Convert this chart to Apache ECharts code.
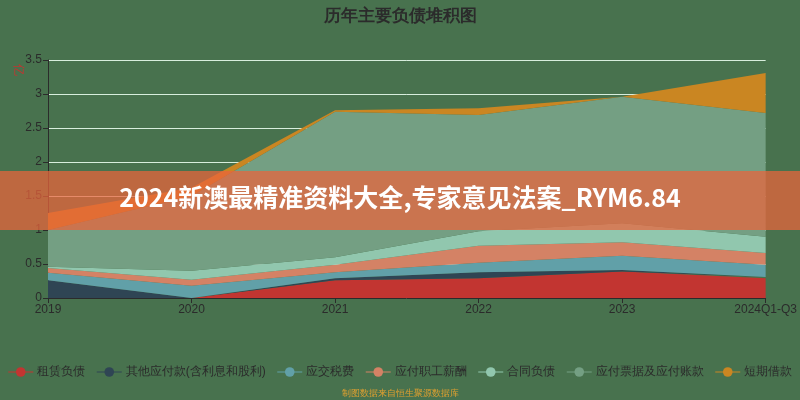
<!DOCTYPE html>
<html>
<head>
<meta charset="utf-8">
<script src="https://cdn.jsdelivr.net/npm/echarts@6/dist/echarts.min.js"></script>
<style>
  html, body { margin: 0; padding: 0; background: #48724e; }
  #chart { width: 800px; height: 400px; }
</style>
</head>
<body>
<div id="chart"></div>
<script>
// 年份
const years = ["2019", "2020", "2021", "2022", "2023", "2024Q1-Q3"];
// 各负债项目（亿）
const leaseLiab = [0, 0, 0.26, 0.29, 0.39, 0.29]; // 租赁负债
const otherPay = [0.26, 0, 0.03, 0.09, 0.02, 0.02]; // 其他应付款(含利息和股利)
const taxPay = [0.11, 0.18, 0.09, 0.14, 0.21, 0.18]; // 应交税费
const staffPay = [0.07, 0.09, 0.11, 0.25, 0.2, 0.17]; // 应付职工薪酬
const contractLiab = [0.02, 0.13, 0.11, 0.21, 0.28, 0.24]; // 合同负债
const notesPay = [0.54, 1.1, 2.14, 1.71, 1.86, 1.82]; // 应付票据及应付账款
const shortLoan = [0.25, 0.12, 0.02, 0.1, 0, 0.59]; // 短期借款
const yTicks = [0, 0.5, 1, 1.5, 2, 2.5, 3, 3.5];

const names = ["租赁负债", "其他应付款(含利息和股利)", "应交税费", "应付职工薪酬", "合同负债", "应付票据及应付账款", "短期借款"];
const colors = ["#c23531", "#2f4554", "#61a0a8", "#d48265", "#91c7ae", "#749f83", "#ca8622"];
const seriesData = [leaseLiab, otherPay, taxPay, staffPay, contractLiab, notesPay, shortLoan];

const chart = echarts.init(document.getElementById("chart"));

chart.setOption({
  backgroundColor: "#48724e",
  color: colors,
  animation: false,
  title: {
    text: "历年主要负债堆积图",
    left: "center",
    top: 3,
    textStyle: { color: "#2b2b2b", fontSize: 17, fontWeight: "bold" },
  },
  legend: {
    top: 361,
    left: "center",
    itemGap: 11,
    itemWidth: 25,
    itemHeight: 12,
    data: names,
    lineStyle: { width: 1, color: "inherit" },
    textStyle: { color: "#2b2b2b", fontSize: 12, padding: [0, 0, 0, -1] },
  },
  grid: { left: 48, right: 32, top: 60, bottom: 102 },
  xAxis: {
    type: "category",
    boundaryGap: false,
    data: years,
    axisLine: { lineStyle: { color: "#2b2b2b" } },
    axisTick: { show: true, alignWithLabel: true },
    axisLabel: { color: "#2b2b2b", fontSize: 12, margin: 6 },
  },
  yAxis: {
    type: "value",
    min: 0,
    max: yTicks[yTicks.length - 1],
    interval: 0.5,
    axisLine: { show: true, lineStyle: { color: "#2b2b2b" } },
    axisTick: { show: true },
    axisLabel: { color: "#2b2b2b", fontSize: 12, margin: 6 },
    splitLine: { show: true, lineStyle: { color: "#d8eedd", width: 1 } },
  },
  series: names.map((n, i) => ({
    name: n,
    type: "line",
    stack: "total",
    data: seriesData[i],
    symbol: "circle",
    symbolSize: 6,
    showSymbol: false,
    lineStyle: { width: 0 },
    areaStyle: { opacity: 1, color: colors[i] },
    itemStyle: { color: colors[i] },
  })),
  graphic: [
    {
      type: "text",
      left: 12,
      top: 64,
      rotation: -Math.PI / 2,
      style: { text: "亿", fill: "#c23531", fontSize: 12 },
    },
    {
      type: "rect",
      left: 0,
      top: 171,
      shape: { width: 800, height: 59 },
      style: { fill: "rgba(235,100,60,0.72)" },
      z: 100,
    },
    {
      type: "text",
      left: "center",
      top: 185,
      style: {
        text: "2024新澳最精准资料大全,专家意见法案_RYM6.84",
        fill: "#ffffff",
        fontSize: 25,
        fontWeight: "bold",
        fontFamily: "Noto Sans CJK SC",
      },
      z: 101,
    },
    {
      type: "text",
      left: "center",
      top: 389,
      style: { text: "制图数据来自恒生聚源数据库", fill: "#e0a030", fontSize: 9 },
    },
  ],
});
</script>
</body>
</html>
